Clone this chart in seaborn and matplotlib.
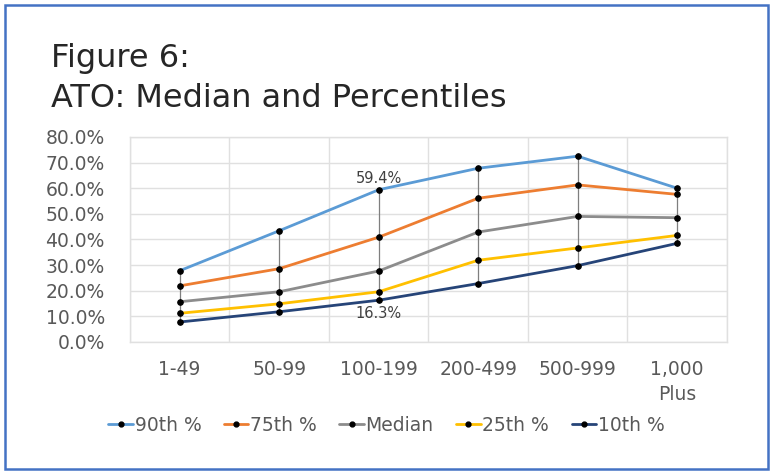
import matplotlib
matplotlib.use("Agg")
import matplotlib.pyplot as plt
import seaborn as sns
import pandas as pd
from matplotlib.patches import Rectangle
from matplotlib.lines import Line2D

categories = ["1-49", "50-99", "100-199", "200-499", "500-999", "1,000\nPlus"]
series_names = ["90th %", "75th %", "Median", "25th %", "10th %"]
p90 = [27.8, 43.4, 59.4, 67.8, 72.5, 60.0]
p75 = [21.9, 28.6, 40.9, 56.1, 61.3, 57.6]
median = [15.7, 19.6, 27.7, 42.9, 49.0, 48.5]
p25 = [11.2, 14.9, 19.6, 31.9, 36.7, 41.6]
p10 = [7.8, 11.8, 16.3, 22.8, 29.8, 38.5]
colors = ["#5B9BD5", "#ED7D31", "#8C8C8C", "#FFC000", "#264478"]
yticks = [0, 10, 20, 30, 40, 50, 60, 70, 80]

rows = []
for name, vals in zip(series_names, [p90, p75, median, p25, p10]):
    for c, v in zip(categories, vals):
        rows.append({"cat": c, "val": v, "series": name})
df = pd.DataFrame(rows)

sns.set_style("white")
plt.rcParams["font.family"] = ["DejaVu Sans"]
fig = plt.figure(figsize=(7.73, 4.74), dpi=100)
ax = fig.add_axes([0.168, 0.2785, 0.7725, 0.4325])

# high-low lines
xs = list(range(len(categories)))
ax.vlines(xs, p10, p90, color="#7F7F7F", lw=0.9, zorder=2)

sns.lineplot(data=df, x="cat", y="val", hue="series", hue_order=series_names,
             palette=colors, sort=False, marker="o", markersize=4,
             markerfacecolor="black", markeredgecolor="black", linewidth=2,
             ax=ax, zorder=3, legend=False)

ax.set_xlim(-0.5, len(categories) - 0.5)
ax.set_ylim(0, 80)
ax.set_yticks(yticks)
ax.set_yticklabels([f"{t:.1f}%" for t in yticks], fontsize=13.5, color="#595959")
ax.set_xticks(xs)
ax.set_xticklabels(categories, fontsize=13.5, color="#595959",
                   linespacing=1.4, va="top")
ax.tick_params(axis="x", length=0, pad=13)
ax.tick_params(axis="y", length=0, pad=18)
ax.set_xticks([x + 0.5 for x in range(-1, len(categories))], minor=True)
ax.tick_params(axis="x", which="minor", length=0)
ax.grid(True, axis="y", color="#E0E0E0", lw=1)
ax.grid(True, axis="x", which="minor", color="#E0E0E0", lw=1)
ax.set_xlabel("")
ax.set_ylabel("")
for s in ax.spines.values():
    s.set_color("#E0E0E0")
    s.set_linewidth(1)
ax.set_axisbelow(True)

# data labels
ax.annotate(f"{p90[2]:.1f}%", (2, p90[2]), xytext=(0, 3), textcoords="offset points",
            ha="center", va="bottom", fontsize=10.5, color="#404040")
ax.annotate(f"{p10[2]:.1f}%", (2, p10[2]), xytext=(0, -4), textcoords="offset points",
            ha="center", va="top", fontsize=10.5, color="#404040")

# legend
handles = [Line2D([0], [0], color=c, lw=2, marker="o", markersize=3.5,
                  markerfacecolor="black", markeredgecolor="black") for c in colors]
leg = fig.legend(handles, series_names, loc="center", bbox_to_anchor=(0.5, 0.103),
                 ncol=5, frameon=False, handlelength=1.3, handletextpad=0.1,
                 columnspacing=1.2, prop={"size": 13.5})
for t in leg.get_texts():
    t.set_color("#595959")

# title
fig.text(0.066, 1 - 67 / 474, "Figure 6:", fontsize=23, color="#262626",
         va="baseline", ha="left")
fig.text(0.066, 1 - 107 / 474, "ATO: Median and Percentiles", fontsize=23,
         color="#262626", va="baseline", ha="left")

# border
fig.patches.append(Rectangle((0.006, 0.01), 0.988, 0.98, transform=fig.transFigure,
                             fill=False, edgecolor="#4472C4", lw=1.8))

fig.savefig("out.png", dpi=100)
